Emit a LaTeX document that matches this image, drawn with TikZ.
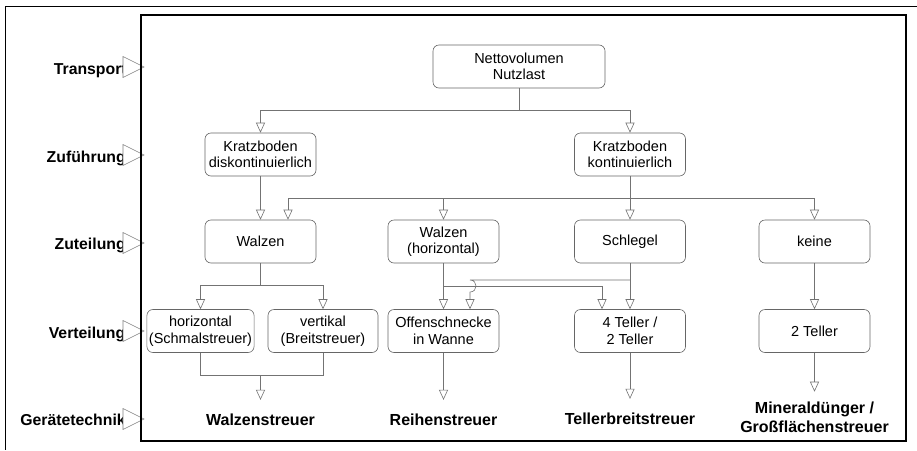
\documentclass[tikz,border=0pt]{standalone}
\usepackage{fontspec}
\setmainfont{Liberation Sans}
\usepackage{tikz}
\usetikzlibrary{positioning}
\usetikzlibrary{arrows.meta}
\definecolor{linegray}{rgb}{0.45,0.45,0.45}
\definecolor{boxgray}{rgb}{0.4,0.4,0.4}

\begin{document}
\begin{tikzpicture}[
            x = 1pt, y = -1pt, % pixel grid, y runs downwards
            > = {Triangle[open, length = 10pt, width = 9pt]}, % arrow head style
            node distance = 88pt, % distance between levels
            line width = 0.6pt % line style
            ]

        \tikzstyle{box}=[
            draw = boxgray,
            fill = white,
            rounded corners = 6pt,
            minimum width = 111pt,
            minimum height = 43pt,
            inner sep = 2pt,
            align = center,
            font = \fontsize{14.5}{16.5}\selectfont
        ]
        \tikzstyle{stage}=[anchor = base east, inner sep = 0pt, font = \bfseries\fontsize{15.8}{19}\selectfont]
        \tikzstyle{result}=[inner xsep = 2pt, inner ysep = 14pt, align = center, font = \bfseries\fontsize{16}{19.2}\selectfont]
        \tikzstyle{pointer}=[draw = gray, fill = white, line width = 0.6pt]
        \tikzstyle{wire}=[draw = linegray]

        \path[use as bounding box, fill = white] (0, 0) rectangle (917, 450);

	% transport
        \node[box, minimum width = 172pt] (N) at (519, 66.5) {Nettovolumen\\Nutzlast};

	% feeding
        \node[box] (K1) at (260.5, 154.5) {Kratzboden\\diskontinuierlich};
        \node[box] (K2) [node distance = 369.5pt, right of = K1] {Kratzboden\\kontinuierlich};

	% dosing
        \node[box] (Z1) [node distance = 87pt, below of = K1] {Walzen};
        \node[box] (Z3) [node distance = 87pt, below of = K2] {Schlegel};
        \node[box] (Z2) [node distance = 186.5pt, left of = Z3] {Walzen\\(horizontal)};
        \node[box] (Z4) [node distance = 184.5pt, right of = Z3] {keine};

	% spreading
        \node[box, minimum width = 107pt] (V1) at (200.5, 331) {horizontal\\(Schmalstreuer)};
        \node[box, minimum width = 110pt] (V2) at (323, 331) {vertikal\\(Breitstreuer)};
        \node[box] (V3) [node distance = 89.5pt, below of = Z2] {Offenschnecke\\in Wanne};
        \node[box] (V4) [node distance = 89.5pt, below of = Z3] {4 Teller /\\2 Teller};
        \node[box] (V5) [node distance = 89.5pt, below of = Z4] {2 Teller};

	% machine types
        \node[result] (G1) at (260.5, 420) {Walzenstreuer};
        \node[result] (G2) [node distance = 89pt, below of = V3] {Reihenstreuer};
        \node[result] (G3) [node distance = 88pt, below of = V4] {Tellerbreitstreuer};
        \node[result, inner ysep = 10pt] (G4) [node distance = 86.5pt, below of = V5] {Mineraldünger /\\Großflächenstreuer};

        % links
        \coordinate (n1) at (519, 110);
        \draw[wire] (N) -- (n1);
        \draw[wire, ->] (n1) -| (K1);
        \draw[wire, ->] (n1) -| (K2);

        \draw[wire, ->] (K1) -- (Z1);
        \coordinate (k2) at (630, 198);
        \draw[wire] (K2) -- (k2);
        \draw[wire, ->] (k2) -| ([xshift = 27.5pt]Z1.north);
        \draw[wire, ->] (k2) -| (Z2);
        \draw[wire, ->] (k2) -- (Z3);
        \draw[wire, ->] (k2) -| (Z4);

        \coordinate (z1) at (260.5, 285);
        \draw[wire] (Z1) -- (z1);
        \draw[wire, ->] (z1) -| (V1);
        \draw[wire, ->] (z1) -| (V2);

        \draw[wire, ->] (Z2) -- (V3);
        \coordinate (z2) at (443.5, 286);
        \draw[wire, ->] (z2) -| ([xshift = -28pt]V4.north);

        \draw[wire, ->] (Z3) -- (V4);
        \coordinate (z3) at (630, 280);
        \coordinate (hop) at (470, 280);
        \coordinate (hopend) at (470, 292);
        \draw[wire, ->] (z3) -- (hop) .. controls +(8, 0) and +(8, 0) .. (hopend) -- ([xshift = 26.5pt]V3.north);

        \draw[wire, ->] (Z4) -- (V5);

        \coordinate (v12) at (260.5, 375);
        \draw[wire] (V1) |- (v12);
        \draw[wire] (V2) |- (v12);
        \draw[wire, ->] (v12) -- (G1);
        \draw[wire, ->] (V3) -- (G2);
        \draw[wire, ->] (V4) -- (G3);
        \draw[wire, ->] (V5) -- (G4);

	% levels
        \node[stage] (L1) at (127, 74) {Transport};
        \node[stage] (L2) at (126, 162) {Zuführung};
        \node[stage] (L3) at (126, 249) {Zuteilung};
        \node[stage] (L4) at (125.5, 338) {Verteilung};
        \node[stage] (L5) at (126, 425) {Gerätetechnik};

        \draw[pointer] (123, 56.5) -- (144, 67) -- (123, 77.5) -- cycle;
        \draw[pointer] (123, 144.5) -- (144, 155) -- (123, 165.5) -- cycle;
        \draw[pointer] (123, 232.5) -- (144, 243) -- (123, 253.5) -- cycle;
        \draw[pointer] (123, 320.5) -- (144, 331) -- (123, 341.5) -- cycle;
        \draw[pointer] (123, 408.5) -- (144, 419) -- (123, 429.5) -- cycle;

	% frames
        \draw[line width = 1.2pt] (141, 15) rectangle (906, 441);
        \draw[line width = 1pt] (917, 6) -| (5, 450);

\end{tikzpicture}
\end{document}
